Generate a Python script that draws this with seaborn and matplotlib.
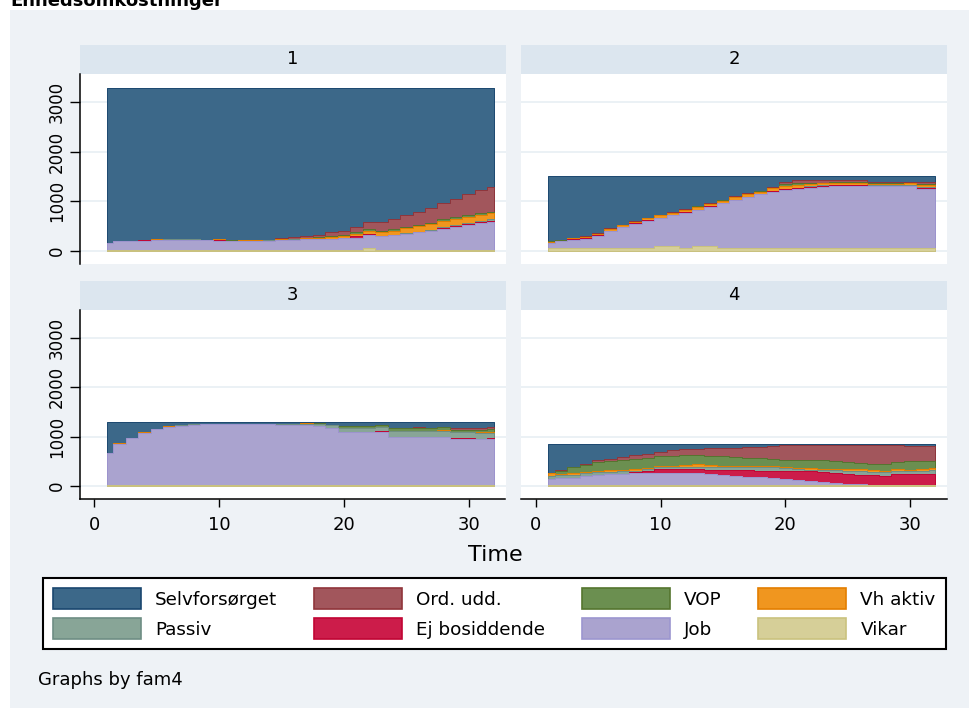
import matplotlib
matplotlib.use("Agg")
import matplotlib.pyplot as plt
from matplotlib.patches import Patch, Rectangle
import pandas as pd
import seaborn as sns

# ---- data (unit costs per status, stacked) ----
time = list(range(1, 33))

# status order: top of the stack first (also the legend order, row-wise)
statuses = ["Selvforsørget", "Ord. udd.", "VOP", "Vh aktiv",
            "Passiv", "Ej bosiddende", "Job", "Vikar"]

# fam4 = 1
selv1 = [3155, 3105, 3100, 3085, 3065, 3065, 3060, 3060, 3080, 3070, 3095, 3090, 3080, 3080, 3045, 3020,
         3005, 2975, 2930, 2895, 2820, 2725, 2730, 2670, 2585, 2510, 2435, 2340, 2260, 2160, 2070, 2020]
ordudd1 = [0, 0, 0, 0, 0, 0, 0, 0, 0, 0, 0, 0, 10, 10, 20, 40,
           50, 60, 75, 90, 110, 145, 170, 200, 235, 270, 300, 330, 370, 420, 470, 490]
vop1 = [0, 10, 0, 0, 0, 10, 0, 0, 0, 0, 10, 0, 0, 0, 0, 10,
        0, 10, 15, 20, 25, 30, 30, 30, 30, 30, 30, 30, 30, 35, 35, 35]
vhakt1 = [0, 0, 10, 0, 15, 0, 10, 15, 0, 10, 0, 15, 15, 0, 15, 0,
          20, 25, 40, 45, 60, 70, 85, 95, 100, 105, 110, 115, 115, 120, 120, 125]
passiv1 = [0, 0, 0, 0, 0, 10, 10, 10, 10, 0, 0, 0, 0, 10, 10, 10,
           0, 0, 0, 0, 0, 0, 0, 0, 15, 15, 20, 20, 20, 20, 25, 25]
ejbo1 = [0, 0, 0, 20, 15, 0, 0, 0, 0, 20, 0, 0, 0, 0, 0, 0,
         0, 0, 0, 0, 25, 25, 0, 0, 0, 0, 0, 20, 20, 20, 20, 20]
job1 = [130, 170, 175, 180, 190, 200, 205, 200, 195, 185, 180, 180, 180, 185, 195, 205,
        210, 215, 225, 235, 245, 255, 270, 290, 320, 355, 390, 430, 470, 510, 545, 570]
vikar1 = [15, 15, 15, 15, 15, 15, 15, 15, 15, 15, 15, 15, 15, 15, 15, 15,
          15, 15, 15, 15, 15, 50, 15, 15, 15, 15, 15, 15, 15, 15, 15, 15]

# fam4 = 2
selv2 = [1320, 1290, 1255, 1220, 1155, 1055, 985, 920, 850, 785, 730, 670, 605, 550, 485, 415,
         350, 295, 215, 115, 80, 80, 80, 80, 80, 80, 120, 120, 120, 120, 120, 120]
ordudd2 = [0, 10, 10, 10, 10, 10, 10, 10, 10, 10, 10, 10, 10, 10, 10, 15,
           15, 15, 20, 50, 65, 60, 55, 50, 50, 50, 20, 20, 20, 20, 40, 40]
vop2 = [25, 10, 0, 5, 5, 5, 0, 0, 0, 5, 5, 5, 10, 5, 5, 5,
        5, 5, 10, 30, 30, 20, 15, 15, 15, 15, 25, 25, 25, 5, 30, 30]
vhakt2 = [10, 0, 15, 25, 35, 40, 35, 30, 40, 45, 50, 50, 55, 50, 45, 55,
          55, 50, 60, 60, 60, 50, 40, 30, 30, 30, 20, 20, 20, 40, 40, 40]
passiv2 = [0, 0, 0, 0, 0, 0, 0, 0, 0, 0, 0, 0, 0, 0, 0, 0,
           0, 0, 0, 10, 10, 10, 10, 10, 10, 10, 10, 10, 10, 10, 10, 10]
ejbo2 = [0, 0, 10, 15, 15, 10, 5, 5, 5, 5, 5, 5, 5, 5, 5, 5,
         5, 5, 10, 15, 15, 15, 15, 15, 15, 15, 15, 15, 15, 15, 20, 20]
job2 = [95, 140, 160, 175, 230, 330, 415, 485, 545, 560, 610, 710, 725, 790, 900, 955,
        1020, 1080, 1135, 1170, 1190, 1215, 1235, 1250, 1250, 1250, 1240, 1240, 1240, 1240, 1190, 1190]
vikar2 = [60, 60, 60, 60, 60, 60, 60, 60, 60, 100, 100, 60, 100, 100, 60, 60,
          60, 60, 60, 60, 60, 60, 60, 60, 60, 60, 60, 60, 60, 60, 60, 60]

# fam4 = 3
selv3 = [620, 420, 315, 205, 125, 75, 45, 30, 25, 25, 25, 25, 25, 25, 25, 25,
         10, 20, 45, 75, 75, 75, 45, 110, 110, 90, 120, 90, 115, 115, 105, 95]
ordudd3 = [0, 0, 0, 0, 0, 0, 0, 0, 0, 0, 0, 0, 0, 0, 0, 0,
           0, 0, 0, 0, 0, 0, 0, 0, 0, 30, 0, 0, 30, 30, 40, 40]
vop3 = [0, 0, 0, 0, 0, 0, 0, 0, 0, 0, 0, 0, 0, 0, 10, 10,
        10, 10, 10, 40, 40, 40, 40, 60, 60, 60, 60, 70, 60, 60, 60, 60]
vhakt3 = [0, 10, 10, 15, 15, 10, 15, 10, 0, 0, 0, 0, 0, 0, 0, 0,
          15, 10, 0, 0, 0, 0, 0, 0, 0, 0, 0, 20, 0, 0, 20, 20]
passiv3 = [0, 0, 0, 0, 0, 10, 10, 10, 10, 10, 10, 10, 10, 10, 20, 20,
           20, 40, 60, 90, 90, 90, 90, 120, 120, 110, 110, 110, 120, 120, 120, 110]
ejbo3 = [0, 0, 0, 0, 0, 0, 0, 0, 0, 0, 0, 0, 0, 0, 0, 0,
         0, 0, 0, 0, 0, 0, 30, 0, 0, 0, 0, 0, 20, 20, 0, 20]
job3 = [655, 845, 950, 1055, 1135, 1180, 1205, 1225, 1240, 1240, 1240, 1240, 1240, 1240, 1220, 1220,
        1220, 1195, 1160, 1070, 1070, 1070, 1070, 985, 985, 985, 985, 985, 930, 930, 930, 930]
vikar3 = [15, 15, 15, 15, 15, 15, 15, 15, 15, 15, 15, 15, 15, 15, 15, 15,
          15, 15, 15, 15, 15, 15, 15, 15, 15, 15, 15, 15, 15, 15, 15, 15]

# fam4 = 4
selv4 = [580, 520, 460, 410, 330, 300, 270, 230, 200, 160, 110, 90, 90, 80, 80, 70,
         60, 50, 45, 20, 20, 20, 20, 20, 20, 20, 20, 20, 20, 30, 40, 40]
ordudd4 = [5, 30, 10, 20, 35, 50, 60, 70, 80, 90, 125, 140, 140, 160, 170, 195,
           220, 240, 255, 300, 300, 300, 300, 330, 350, 370, 375, 380, 345, 320, 305, 300]
vop4 = [10, 55, 120, 135, 180, 180, 190, 210, 200, 190, 200, 200, 175, 190, 185, 175,
        160, 150, 140, 140, 155, 165, 175, 150, 135, 120, 135, 145, 135, 165, 165, 150]
vhakt4 = [50, 30, 30, 30, 30, 30, 30, 30, 30, 30, 30, 30, 50, 30, 30, 30,
          30, 30, 30, 30, 30, 30, 30, 30, 30, 30, 30, 30, 40, 30, 30, 30]
passiv4 = [65, 60, 60, 55, 45, 45, 50, 35, 40, 40, 45, 50, 55, 55, 55, 55,
           60, 65, 70, 50, 45, 40, 35, 60, 75, 80, 60, 75, 70, 65, 70, 90]
ejbo4 = [0, 0, 0, 0, 0, 0, 0, 20, 45, 85, 85, 85, 85, 85, 105, 120,
         130, 135, 140, 170, 180, 195, 200, 200, 195, 195, 205, 180, 220, 220, 220, 220]
job4 = [125, 140, 155, 185, 215, 230, 235, 240, 240, 240, 240, 240, 240, 235, 210, 190,
        175, 165, 155, 125, 105, 85, 75, 45, 30, 20, 10, 5, 5, 5, 5, 5]
vikar4 = [15, 15, 15, 15, 15, 15, 15, 15, 15, 15, 15, 15, 15, 15, 15, 15,
          15, 15, 15, 15, 15, 15, 15, 15, 15, 15, 15, 15, 15, 15, 15, 15]

panels = {
    1: [selv1, ordudd1, vop1, vhakt1, passiv1, ejbo1, job1, vikar1],
    2: [selv2, ordudd2, vop2, vhakt2, passiv2, ejbo2, job2, vikar2],
    3: [selv3, ordudd3, vop3, vhakt3, passiv3, ejbo3, job3, vikar3],
    4: [selv4, ordudd4, vop4, vhakt4, passiv4, ejbo4, job4, vikar4],
}

# Stata s2color-ish fills and outlines
fill_colors = {
    "Selvforsørget": "#3c6889", "Ord. udd.": "#a2565c", "VOP": "#6b8f50",
    "Vh aktiv": "#f0961f", "Passiv": "#88a597", "Ej bosiddende": "#cc1c4a",
    "Job": "#aaa3cf", "Vikar": "#d6cf98",
}
edge_colors = {
    "Selvforsørget": "#1a476f", "Ord. udd.": "#90353b", "VOP": "#55752f",
    "Vh aktiv": "#e37e00", "Passiv": "#6e8e84", "Ej bosiddende": "#c10534",
    "Job": "#9c96d0", "Vikar": "#cac27e",
}

BG = "#eef2f6"
STRIP = "#dce6ef"
GRID = "#e9f0f5"

rows = []
for fam, series in panels.items():
    for name, vals in zip(statuses, series):
        for t, v in zip(time, vals):
            rows.append((fam, t, name, v))
df = pd.DataFrame(rows, columns=["fam4", "Time", "status", "value"])


def draw_stack(data, **kws):
    ax = plt.gca()
    wide = data.pivot(index="Time", columns="status", values="value")
    bottom_up = statuses[::-1]
    tops = wide[bottom_up].cumsum(axis=1)
    # overlay cumulative areas, biggest first (like Stata's area overlay)
    for name in statuses:
        ax.fill_between(tops.index, 0, tops[name], step="mid",
                        facecolor=fill_colors[name], edgecolor=edge_colors[name],
                        linewidth=0.7, zorder=2)


sns.set_theme(style="white")
plt.rcParams["font.family"] = ["DejaVu Sans"]
plt.rcParams["text.color"] = "black"
plt.rcParams["xtick.color"] = "black"
plt.rcParams["ytick.color"] = "black"
plt.rcParams["axes.labelcolor"] = "black"

g = sns.FacetGrid(df, col="fam4", col_wrap=2, sharex=True, sharey=True,
                  height=3.54, aspect=9.7 / 7.08, despine=False)
g.map_dataframe(draw_stack)
g.set_titles("")
g.set_axis_labels("", "")

fig = g.figure
fig.set_size_inches(9.7, 7.08)
fig.subplots_adjust(left=80 / 970, right=947 / 970, top=1 - 74 / 708, bottom=1 - 499 / 708,
                    wspace=16 / 425.5, hspace=46 / 189.5)

for i, ax in enumerate(g.axes.flat):
    row, col = divmod(i, 2)
    fam = i + 1
    ax.set_facecolor("white")
    ax.set_xlim(-1.15, 32.95)
    ax.set_ylim(-262, 3575)
    for sp in ax.spines.values():
        sp.set_visible(False)
    ax.set_axisbelow(True)
    ax.yaxis.grid(True, color=GRID, linewidth=1.3)
    ax.xaxis.grid(False)

    ax.set_yticks([0, 1000, 2000, 3000])
    if col == 0:
        ax.spines["left"].set_visible(True)
        ax.spines["left"].set_color("black")
        ax.spines["left"].set_linewidth(1.1)
        ax.set_yticklabels(["0", "1000", "2000", "3000"], rotation=90, va="center")
        ax.tick_params(axis="y", left=True, length=7, width=1, colors="black",
                       labelsize=12, pad=3, labelleft=True)
    else:
        ax.tick_params(axis="y", left=False, labelleft=False)

    ax.set_xticks([0, 10, 20, 30])
    if row == 1:
        ax.spines["bottom"].set_visible(True)
        ax.spines["bottom"].set_color("black")
        ax.spines["bottom"].set_linewidth(1.1)
        ax.tick_params(axis="x", bottom=True, length=6, width=1, colors="black",
                       labelsize=13, pad=6, labelbottom=True)
    else:
        ax.tick_params(axis="x", bottom=False, labelbottom=False)

    # strip header
    ax.add_patch(Rectangle((0, 1), 1, 29 / 189.5, transform=ax.transAxes,
                           clip_on=False, facecolor=STRIP, edgecolor="none", zorder=0))
    ax.text(0.5, 1 + 14.5 / 189.5, str(fam), transform=ax.transAxes,
            ha="center", va="center", fontsize=13, color="black")

# light graph region behind everything
fig.add_artist(Rectangle((10 / 970, 0), 1, 1 - 10 / 708, transform=fig.transFigure,
                         facecolor=BG, edgecolor="none", zorder=-5))

fig.text(10 / 970, 1 - 6 / 708, "Enhedsomkostninger", fontsize=13, fontweight="bold",
         ha="left", va="baseline", color="black")
fig.text(495 / 970, 1 - 561 / 708, "Time", fontsize=16, ha="center", va="baseline",
         color="black")
fig.text(38 / 970, 1 - 685 / 708, "Graphs by fam4", fontsize=13, ha="left", va="baseline",
         color="black")

# legend rows are filled column by column in matplotlib, so reorder
legend_order = ["Selvforsørget", "Passiv", "Ord. udd.", "Ej bosiddende",
                "VOP", "Job", "Vh aktiv", "Vikar"]
handles = [Patch(facecolor=fill_colors[s], edgecolor=edge_colors[s], linewidth=1.2, label=s)
           for s in legend_order]
leg = fig.legend(handles=handles, ncol=4, loc="upper left",
                 bbox_to_anchor=(43 / 970, 1 - 578 / 708), frameon=True, fontsize=13.2,
                 handlelength=4.8, handleheight=1.37, handletextpad=0.77,
                 columnspacing=2.0, borderpad=0.55, labelspacing=0.5, borderaxespad=0,
                 fancybox=False, edgecolor="black", facecolor="white", framealpha=1)
leg.get_frame().set_linewidth(1.5)
for txt in leg.get_texts():
    txt.set_color("black")

fig.savefig("out.png", dpi=100, facecolor="white")
